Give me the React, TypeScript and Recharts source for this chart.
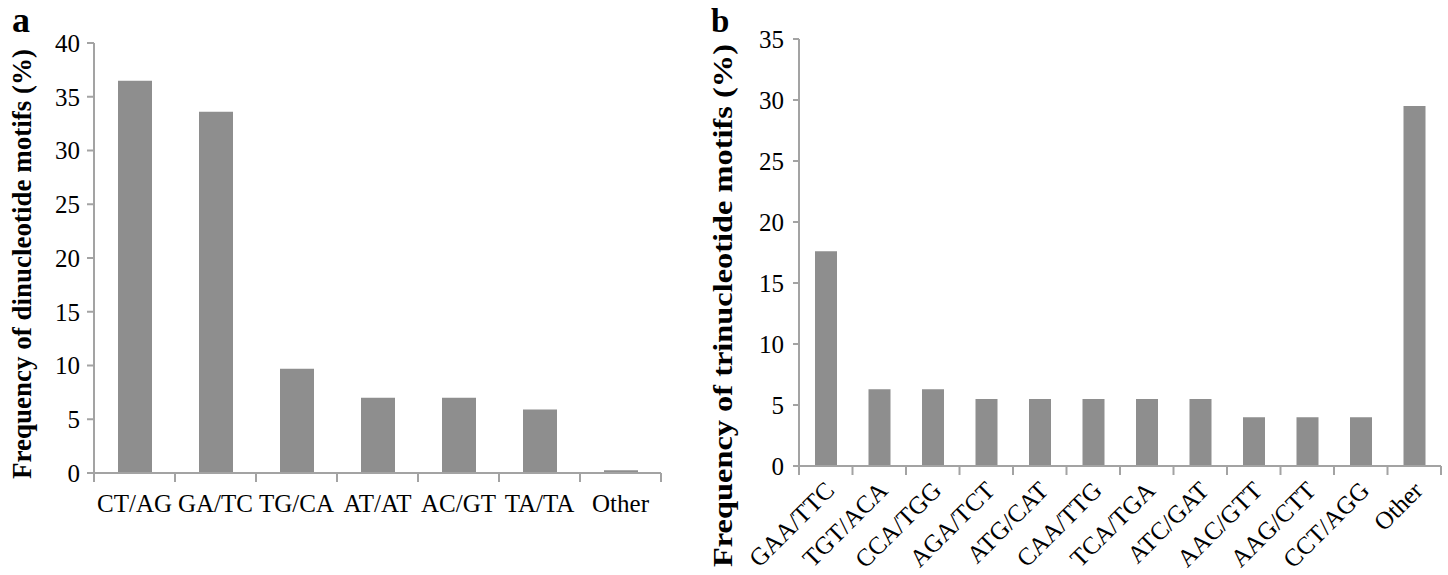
import React from 'react';
import { BarChart, Bar, XAxis, YAxis } from 'recharts';

const diCategories = ['CT/AG', 'GA/TC', 'TG/CA', 'AT/AT', 'AC/GT', 'TA/TA', 'Other'];
const diValues = [36.5, 33.6, 9.7, 7.0, 7.0, 5.9, 0.25];
const diTicks = [0, 5, 10, 15, 20, 25, 30, 35, 40];

const triCategories = ['GAA/TTC', 'TGT/ACA', 'CCA/TGG', 'AGA/TCT', 'ATG/CAT', 'CAA/TTG', 'TCA/TGA', 'ATC/GAT', 'AAC/GTT', 'AAG/CTT', 'CCT/AGG', 'Other'];
const triValues = [17.6, 6.3, 6.3, 5.5, 5.5, 5.5, 5.5, 5.5, 4.0, 4.0, 4.0, 29.5];
const triTicks = [0, 5, 10, 15, 20, 25, 30, 35];

const diData = diCategories.map((c, i) => ({ name: c, value: diValues[i], idx: i + 0.5 }));
const triData = triCategories.map((c, i) => ({ name: c, value: triValues[i], idx: i + 0.5 }));
const diEdges = diCategories.map((_, i) => i).concat([diCategories.length]);
const triEdges = triCategories.map((_, i) => i).concat([triCategories.length]);

const FONT = '"Liberation Serif", "Times New Roman", serif';
const AXIS = '#a3a3a3';
const BAR = '#8e8e8e';

const yLabel = (text: string, x: number, size: number, dyShift: number, stretch: number) => (props: any) => {
  const vb = props.viewBox || {};
  const cy = (vb.y || 0) + (vb.height || 0) / 2 + dyShift;
  return (
    <text x={0} y={0} transform={`translate(${x}, ${cy}) rotate(-90) scale(${stretch}, 1)`} textAnchor="middle" dominantBaseline="central"
      fontFamily={FONT} fontWeight="bold" fontSize={size} fill="#000">{text}</text>
  );
};

const EmptyTick = () => <g />;

const RotTick = (props: any) => {
  const { x, y, payload } = props;
  const ax = x + 4;
  const ay = y + 19;
  return (
    <text x={ax} y={ay} transform={`rotate(-45, ${ax}, ${ay})`} textAnchor="end" dominantBaseline="central"
      fontFamily={FONT} fontSize={25} fill="#000">{payload.value}</text>
  );
};

export default function App() {
  return (
    <div style={{ position: 'absolute', left: 0, top: 0, width: 1448, height: 575, background: '#fff', fontFamily: FONT }}>
      <div style={{ position: 'absolute', left: 0, top: 0 }}>
        <BarChart width={700} height={575} data={diData} margin={{ top: 43, right: 39, bottom: 0, left: 0 }} barSize={34}>
          <XAxis xAxisId={1} dataKey="name" height={101} axisLine={false} tickLine={false} tickSize={0} tickMargin={20}
            interval={0} tick={{ fontFamily: FONT, fontSize: 25, fill: '#000' }} />
          <XAxis xAxisId={0} dataKey="idx" type="number" domain={[0, diCategories.length]} ticks={diEdges} interval={0} allowDataOverflow
            height={1} stroke={AXIS} tickSize={9} tick={<EmptyTick />} axisLine={{ stroke: AXIS, strokeWidth: 2 }} tickLine={{ stroke: AXIS, strokeWidth: 2 }} />
          <YAxis width={94} domain={[0, 40]} ticks={diTicks} interval={0} stroke={AXIS} tickSize={7} tickMargin={7}
            axisLine={{ stroke: AXIS, strokeWidth: 2 }} tickLine={{ stroke: AXIS, strokeWidth: 2 }}
            tick={{ fontFamily: FONT, fontSize: 25, fill: '#000' }}
            label={{ content: yLabel('Frequency of dinucleotide motifs (%)', 22, 27, 6, 1) }} />
          <Bar xAxisId={1} dataKey="value" fill={BAR} isAnimationActive={false} />
        </BarChart>
      </div>
      <div style={{ position: 'absolute', left: 700, top: 0 }}>
        <BarChart width={748} height={575} data={triData} margin={{ top: 39, right: 7, bottom: 0, left: 0 }} barSize={22}>
          <XAxis xAxisId={1} dataKey="name" height={108} axisLine={false} tickLine={false} tickSize={0} tickMargin={0}
            interval={0} tick={<RotTick />} />
          <XAxis xAxisId={0} dataKey="idx" type="number" domain={[0, triCategories.length]} ticks={triEdges} interval={0} allowDataOverflow
            height={1} stroke={AXIS} tickSize={9} tick={<EmptyTick />} axisLine={{ stroke: AXIS, strokeWidth: 2 }} tickLine={{ stroke: AXIS, strokeWidth: 2 }} />
          <YAxis width={99} domain={[0, 35]} ticks={triTicks} interval={0} stroke={AXIS} tickSize={6} tickMargin={9}
            axisLine={{ stroke: AXIS, strokeWidth: 2 }} tickLine={{ stroke: AXIS, strokeWidth: 2 }}
            tick={{ fontFamily: FONT, fontSize: 25, fill: '#000' }}
            label={{ content: yLabel('Frequency of trinucleotide motifs (%)', 22, 27, 53, 1.2) }} />
          <Bar xAxisId={1} dataKey="value" fill={BAR} isAnimationActive={false} />
        </BarChart>
      </div>
      <svg width={1448} height={575} style={{ position: 'absolute', left: 0, top: 0, pointerEvents: 'none' }}>
        <text x={12} y={32} fontFamily={FONT} fontWeight="bold" fontSize={36} fill="#000">a</text>
        <text x={711} y={32} fontFamily={FONT} fontWeight="bold" fontSize={33} fill="#000">b</text>
      </svg>
    </div>
  );
}
